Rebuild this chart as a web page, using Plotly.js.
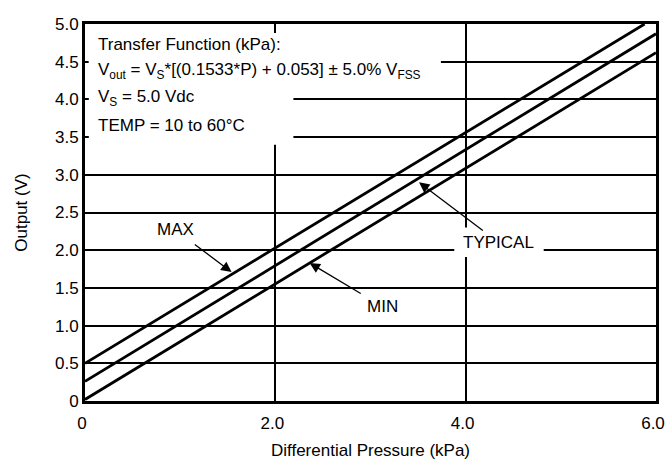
<!DOCTYPE html>
<html>
<head>
<meta charset="utf-8">
<script src="https://cdn.plot.ly/plotly-3.0.1.min.js"></script>
<style>html,body{margin:0;padding:0;background:#fff;}#chart{width:666px;height:460px;}</style>
</head>
<body>
<div id="chart"></div>
<script>
// Data (pressure in kPa, output in V)
const maxP = [0, 5.88];
const maxV = [0.50, 5.00];
const typP = [0, 6.0];
const typV = [0.26, 4.87];
const minP = [0, 6.0];
const minV = [0.02, 4.62];

const xTickVals = [0, 2, 4, 6];
const xTickText = ['0', '2.0', '4.0', '6.0'];
const yTickVals = [0, 0.5, 1, 1.5, 2, 2.5, 3, 3.5, 4, 4.5, 5];
const yTickText = ['0', '0.5', '1.0', '1.5', '2.0', '2.5', '3.0', '3.5', '4.0', '4.5', '5.0'];

const boxLines = [
  'Transfer Function (kPa):',
  'V<sub>out</sub> = V<sub>S</sub>*[(0.1533*P) + 0.053] ± 5.0% V<sub>FSS</sub>',
  'V<sub>S</sub> = 5.0 Vdc',
  'TEMP = 10 to 60°C'
];

const FONT = '"Liberation Sans Narrow", "Arial Narrow", "Liberation Sans", Arial, sans-serif';
const lineStyle = {color: '#000', width: 2.8};

const traces = [
  {x: maxP, y: maxV, mode: 'lines', line: lineStyle, name: 'MAX', hoverinfo: 'skip'},
  {x: typP, y: typV, mode: 'lines', line: lineStyle, name: 'TYPICAL', hoverinfo: 'skip'},
  {x: minP, y: minV, mode: 'lines', line: lineStyle, name: 'MIN', hoverinfo: 'skip'}
];

const boxY = [4.73, 4.38, 4.02, 3.66];
const annotations = boxLines.map((t, i) => ({
  x: 0.12, y: boxY[i], xref: 'x', yref: 'y', text: t, showarrow: false,
  xanchor: 'left', yanchor: 'middle', font: {family: FONT, size: 17, color: '#000'}
}));

function pointer(t, tx, ty, hx, hy, so) {
  return {x: hx, y: hy, ax: tx, ay: ty, xref: 'x', yref: 'y', axref: 'x', ayref: 'y',
    text: t, showarrow: true, arrowhead: 2, arrowsize: 1.6, arrowwidth: 1.3, arrowcolor: '#000',
    startstandoff: so, font: {family: FONT, size: 17, color: '#000'}};
}
annotations.push(pointer('MAX', 0.95, 2.27, 1.54, 1.71, 6));
annotations.push(pointer('MIN', 3.13, 1.25, 2.36, 1.83, 6));
annotations.push(pointer('TYPICAL', 4.35, 2.10, 3.51, 2.90, 2));

const white = {type: 'rect', xref: 'x', yref: 'y', fillcolor: '#fff', line: {width: 0}, layer: 'between'};
const shapes = [
  Object.assign({}, white, {x0: 0.04, x1: 2.19, y0: 3.40, y1: 4.88}),
  Object.assign({}, white, {x0: 0.04, x1: 3.74, y0: 4.30, y1: 4.65}),
  Object.assign({}, white, {x0: 3.88, x1: 4.82, y0: 1.91, y1: 2.30})
];

const axisCommon = {
  showgrid: true, gridcolor: '#000', gridwidth: 2,
  showline: true, linecolor: '#000', linewidth: 3, mirror: true,
  zeroline: false, ticks: '', tickmode: 'array', ticklabeloverflow: 'allow',
  tickfont: {family: FONT, size: 17, color: '#000'}, fixedrange: true
};

const layout = {
  width: 666, height: 460,
  margin: {l: 85, r: 10, t: 24, b: 59},
  paper_bgcolor: '#fff', plot_bgcolor: '#fff',
  showlegend: false,
  font: {family: FONT, color: '#000'},
  xaxis: Object.assign({}, axisCommon, {
    range: [0, 6], tickvals: xTickVals, ticktext: xTickText, ticklabelstandoff: 5, ticklabelshift: -3,
    title: {text: 'Differential Pressure (kPa)', font: {family: FONT, size: 17, color: '#000'}, standoff: 14}
  }),
  yaxis: Object.assign({}, axisCommon, {
    range: [0, 5], tickvals: yTickVals, ticktext: yTickText,
    title: {text: 'Output (V)', font: {family: FONT, size: 17, color: '#000'}, standoff: 24}
  }),
  annotations: annotations,
  shapes: shapes
};

Plotly.newPlot('chart', traces, layout, {displayModeBar: false, staticPlot: true});
</script>
</body>
</html>
